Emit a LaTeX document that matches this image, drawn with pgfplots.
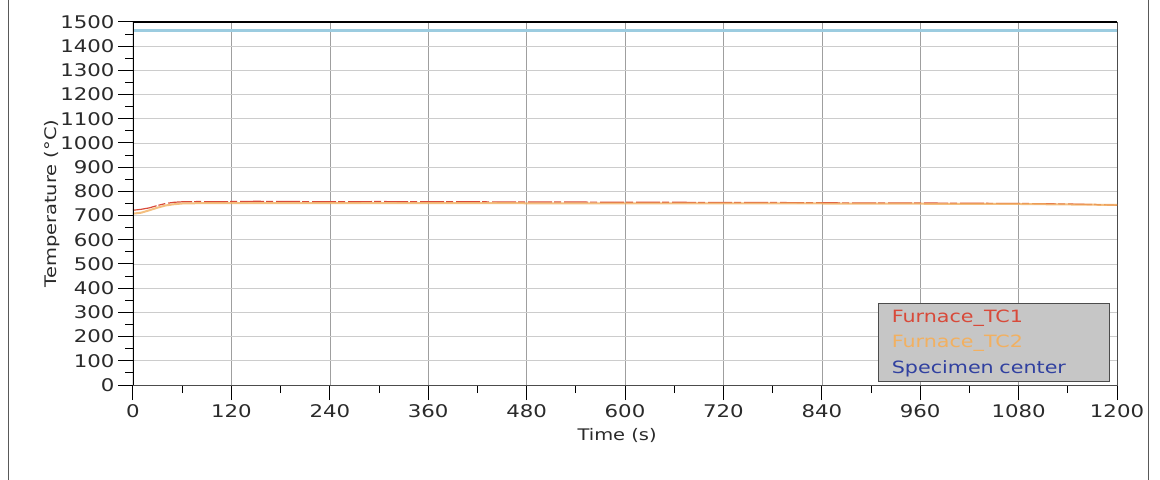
\documentclass[border=0pt]{standalone}
\usepackage{pgfplots}
\pgfplotsset{compat=1.18}
\usepackage{fontspec}
\setmainfont{DejaVu Sans}[FakeStretch=1.22]
\definecolor{tcred}{HTML}{D84A3A}
\definecolor{tcorange}{HTML}{F2B060}
\definecolor{spblue}{HTML}{9CCCE0}
\definecolor{legblue}{HTML}{3040A0}
\definecolor{labgray}{HTML}{2A2A2A}
\begin{document}
\begin{tikzpicture}
\path[use as bounding box, fill=white] (-133bp,-95bp) rectangle (1027bp,385bp);
\draw[gray!70!black, line width=0.8bp] (-125bp,-95bp) -- (-125bp,385bp);
\draw[gray!70!black, line width=0.8bp] (1015bp,-95bp) -- (1015bp,385bp);
\begin{axis}[
  at={(0,0)}, anchor=south west,
  scale only axis, width=984bp, height=363bp,
  xmin=0, xmax=1200, ymin=0, ymax=1500,
  xtick={0,120,...,1200}, ytick={0,100,...,1500},
  minor x tick num=1, minor y tick num=1,
  tick align=outside, tick pos=left,
  major tick length=15bp, minor tick length=8bp,
  every tick/.style={black, line width=1bp},
  grid=major,
  x grid style={gray!75, line width=0.6bp},
  y grid style={gray!40, line width=0.6bp},
  axis line style={gray!60!black, line width=0.6bp},
  /pgf/number format/assume math mode=true,
  /pgf/number format/1000 sep={},
  tick label style={font=\fontsize{17.5}{19}\selectfont, text=labgray},
  xticklabel style={yshift=-1bp},
  xlabel={Time (s)}, ylabel={Temperature (°C)},
  every axis x label/.style={at={(axis description cs:0.492,-0.138)}, anchor=center,
    font=\fontsize{16}{18}\selectfont, text=labgray},
  every axis y label/.style={at={(axis description cs:-0.082,0.5)}, rotate=90, anchor=center,
    font=\fontsize{16}{18}\selectfont, text=labgray},
  legend style={at={(axis description cs:0.992,0.008)}, anchor=south east,
    fill=gray!45, draw=gray!60!black, line width=0.6bp,
    font=\fontsize{17}{19}\selectfont,
    inner xsep=12bp, inner ysep=5bp, row sep=7bp,
    cells={anchor=west}, text width=203bp},
  legend image code/.code={},
  legend cell align=left,
]
\addplot[tcred, line width=1.2bp, dash pattern=on 24bp off 2bp on 7bp off 3bp] coordinates {
(0,722) (10,726) (20,732) (30,742) (40,750) (50,755) (60,757) (80,758) (100,757)
(120,758) (150,759) (200,758) (240,757) (300,758) (360,757) (420,757) (480,756)
(540,756) (600,755) (660,755) (720,754) (780,754) (840,753) (900,752) (960,752)
(1020,751) (1080,750) (1140,748) (1180,745) (1200,743)};
\addlegendentry{\textcolor{tcred}{Furnace\_TC1}}
\addplot[tcorange, line width=2bp, opacity=0.8] coordinates {
(0,708) (10,712) (20,722) (30,733) (40,742) (50,747) (60,750) (90,752) (120,752)
(240,752) (360,752) (480,751) (600,751) (720,750) (840,750) (960,749) (1080,748)
(1140,746) (1200,744)};
\addlegendentry{\textcolor{tcorange}{Furnace\_TC2}}
\addplot[spblue, line width=2.5bp] coordinates {(0,1465) (600,1465) (1200,1465)};
\addlegendentry{\textcolor{legblue}{Specimen center}}
\draw[black, line width=1.8bp] (rel axis cs:0,0) -- (rel axis cs:0,1) -- (rel axis cs:1,1);
\end{axis}
\end{tikzpicture}
\end{document}
